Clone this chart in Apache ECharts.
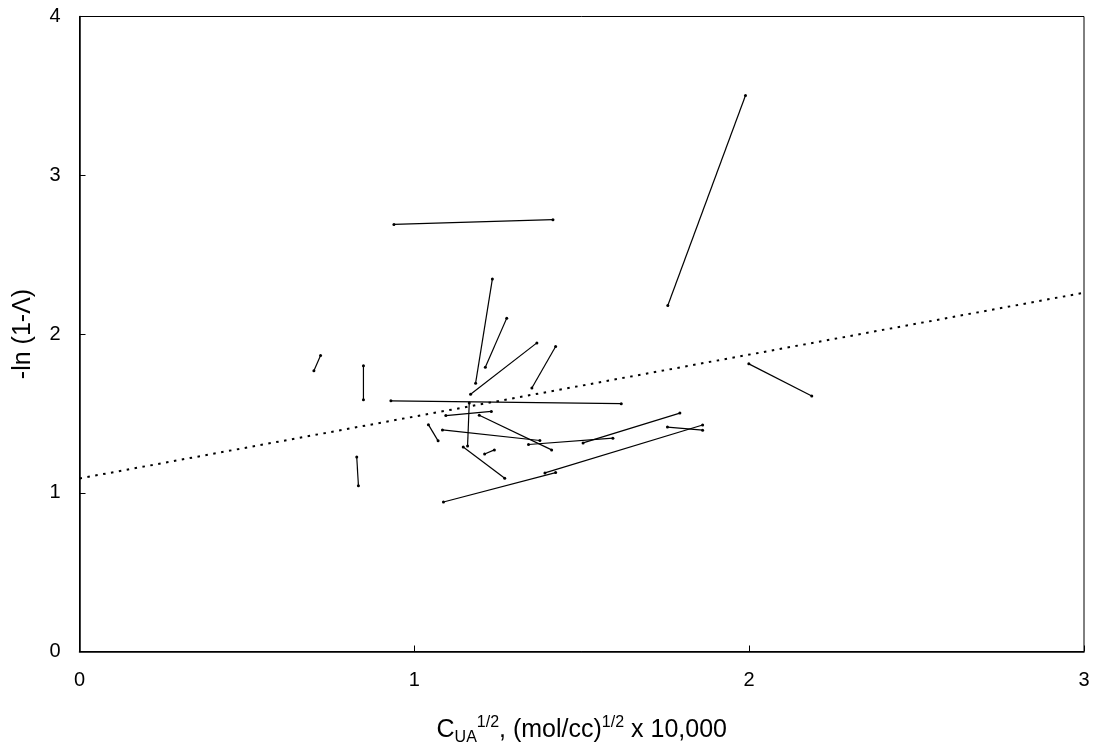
<!DOCTYPE html>
<html>
<head>
<meta charset="utf-8">
<script src="https://cdn.jsdelivr.net/npm/echarts@6/dist/echarts.min.js"></script>
<style>
html,body{margin:0;padding:0;background:#fff;}
#chart{width:1093px;height:751px;}
</style>
</head>
<body>
<div id="chart"></div>
<script>
// Segment start and end points (x = C_UA^1/2 x 10,000, y = -ln(1-Λ))
var startX = [1.989, 1.233, 1.276, 1.366, 1.422, 0.720, 0.848, 0.930, 1.164, 1.094, 1.194, 1.042, 1.084, 1.341, 1.504, 1.146, 1.210, 0.828, 1.087, 1.390, 1.756, 1.999, 0.939];
var startY = [3.502, 2.346, 2.100, 1.944, 1.921, 1.864, 1.800, 1.579, 1.565, 1.486, 1.488, 1.429, 1.396, 1.304, 1.314, 1.288, 1.244, 1.225, 0.942, 1.125, 1.414, 1.812, 2.690];
var endX   = [1.757, 1.183, 1.212, 1.168, 1.351, 0.700, 0.848, 1.618, 1.159, 1.230, 1.410, 1.071, 1.375, 1.593, 1.793, 1.270, 1.239, 0.833, 1.422, 1.861, 1.861, 2.187, 1.414];
var endY   = [2.180, 1.690, 1.790, 1.620, 1.660, 1.769, 1.586, 1.561, 1.294, 1.512, 1.270, 1.327, 1.329, 1.344, 1.502, 1.092, 1.270, 1.044, 1.127, 1.427, 1.394, 1.610, 2.720];
// Fitted (dotted) line
var fitX = [0, 3];
var fitY = [1.09, 2.26];
var xTicks = [0, 1, 2, 3];
var yTicks = [0, 1, 2, 3, 4];

var FONT = 'Liberation Sans, Arial, sans-serif';
var series = [];
for (var i = 0; i < startX.length; i++) {
  series.push({
    type: 'line',
    data: [[startX[i], startY[i]], [endX[i], endY[i]]],
    symbol: 'circle',
    symbolSize: 3,
    showSymbol: true,
    itemStyle: {color: '#000'},
    lineStyle: {color: '#000', width: 1.2},
    silent: true,
    animation: false,
    z: 3
  });
}
series.push({
  type: 'line',
  data: fitX.map(function (x, k) { return [x, fitY[k]]; }),
  symbol: 'none',
  lineStyle: {color: '#000', width: 2, type: [2.5, 5.5]},
  silent: true,
  animation: false,
  z: 2
});

var chart = echarts.init(document.getElementById('chart'), null, {renderer: 'canvas'});
chart.setOption({
  animation: false,
  backgroundColor: '#fff',
  textStyle: {fontFamily: FONT},
  grid: {left: 79.5, right: 9, top: 16.5, bottom: 94, show: true, borderColor: '#000', borderWidth: 1, backgroundColor: 'transparent'},
  xAxis: {
    type: 'value', min: xTicks[0], max: xTicks[xTicks.length - 1], interval: 1,
    axisLine: {show: true, onZero: false, lineStyle: {color: '#000', width: 1.5}},
    axisTick: {show: true, inside: true, length: 6, lineStyle: {color: '#000', width: 1}},
    axisLabel: {color: '#000', fontSize: 20, margin: 19, fontFamily: FONT},
    splitLine: {show: false},
    name: '{m|C}{sub|UA}{sup|1/2}{m|, (mol/cc)}{sup|1/2}{m| x 10,000}',
    nameLocation: 'middle',
    nameGap: 61,
    nameTextStyle: {
      rich: {
        m: {fontSize: 25, color: '#000', fontFamily: FONT, lineHeight: 36, verticalAlign: 'middle'},
        sub: {fontSize: 16, color: '#000', fontFamily: FONT, lineHeight: 36, verticalAlign: 'middle', padding: [15, 0, 0, 0]},
        sup: {fontSize: 16, color: '#000', fontFamily: FONT, lineHeight: 36, verticalAlign: 'middle', padding: [0, 0, 15, 0]}
      }
    }
  },
  yAxis: {
    type: 'value', min: yTicks[0], max: yTicks[yTicks.length - 1], interval: 1,
    axisLine: {show: true, onZero: false, lineStyle: {color: '#000', width: 1.5}},
    axisTick: {show: true, inside: true, length: 6, lineStyle: {color: '#000', width: 1}},
    axisLabel: {color: '#000', fontSize: 20, margin: 19, fontFamily: FONT},
    splitLine: {show: false},
    name: '-ln (1-Λ)',
    nameLocation: 'middle',
    nameGap: 44,
    nameTextStyle: {color: '#000', fontSize: 25, fontFamily: FONT}
  },
  series: series
});
</script>
</body>
</html>
